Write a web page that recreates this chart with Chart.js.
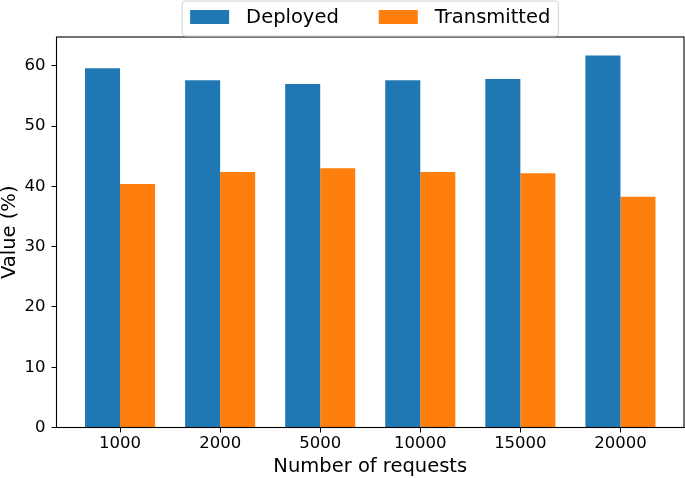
<!DOCTYPE html>
<html>
<head>
<meta charset="utf-8">
<script src="https://cdn.jsdelivr.net/npm/chart.js@4.4.1/dist/chart.umd.min.js"></script>
<style>
  html, body { margin: 0; padding: 0; background: #fff; }
  #wrap { width: 685px; height: 478px; }
</style>
</head>
<body>
<div id="wrap"><canvas id="myChart" width="685" height="478"></canvas></div>
<script>
'use strict'

// data
const requests = ['1000', '2000', '5000', '10000', '15000', '20000']
const deployed = [59.6, 57.6, 57.0, 57.6, 57.8, 61.7]
const transmitted = [40.4, 42.4, 43.0, 42.4, 42.2, 38.3]
const yTicks = [0, 10, 20, 30, 40, 50, 60]

const FONT = 'DejaVu Sans'

// matplotlib style: box round the axes + framed legend above
const framePlugin = {
  id: 'frame',
  afterDraw (chart) {
    const { ctx, chartArea: a } = chart
    ctx.save()
    ctx.strokeStyle = '#000'
    ctx.lineWidth = 1.1
    ctx.strokeRect(a.left, a.top, a.right - a.left, a.bottom - a.top)

    // legend
    ctx.font = '19.5px "' + FONT + '"'
    const sw = 39, sh = 14, gap = 17, spacing = 40, pad = 8
    const items = chart.data.datasets.map(ds => ({
      text: ds.label, color: ds.backgroundColor, w: ctx.measureText(ds.label).width
    }))
    let total = pad * 2 + spacing * (items.length - 1)
    items.forEach(it => { total += sw + gap + it.w })
    const cx = (a.left + a.right) / 2
    let x = cx - total / 2
    const top = 1, h = 35, mid = 17
    ctx.beginPath()
    ctx.roundRect(x, top, total, h, 3)
    ctx.fillStyle = 'rgba(255,255,255,0.8)'
    ctx.fill()
    ctx.strokeStyle = '#d0d0d0'
    ctx.lineWidth = 1
    ctx.stroke()
    x += pad
    ctx.textBaseline = 'middle'
    ctx.textAlign = 'left'
    items.forEach(it => {
      ctx.fillStyle = it.color
      ctx.fillRect(x, mid - sh / 2, sw, sh)
      ctx.fillStyle = '#000'
      ctx.fillText(it.text, x + sw + gap, mid + 1)
      x += sw + gap + it.w + spacing
    })
    ctx.restore()
  }
}

const ctx = document.getElementById('myChart')
new Chart(ctx, {
  type: 'bar',
  data: {
    datasets: [{
      label: 'Deployed',
      data: deployed.map((v, i) => ({ x: i, y: v })),
      backgroundColor: '#1f77b4'
    }, {
      label: 'Transmitted',
      data: transmitted.map((v, i) => ({ x: i, y: v })),
      backgroundColor: '#ff7f0e'
    }]
  },
  options: {
    responsive: false,
    animation: false,
    devicePixelRatio: 1,
    categoryPercentage: 0.7,
    barPercentage: 1.0,
    layout: { padding: { top: 37, right: 1, left: 0, bottom: 0 } },
    plugins: {
      legend: { display: false },
      tooltip: { enabled: false }
    },
    scales: {
      x: {
        type: 'linear',
        offset: false,
        min: -0.635,
        max: requests.length - 1 + 0.635,
        afterBuildTicks: s => { s.ticks = requests.map((r, i) => ({ value: i })) },
        afterFit: s => { s.height = 50.5 },
        grid: { display: true, drawOnChartArea: false, drawTicks: true, tickLength: 5, color: '#000', offset: false },
        border: { display: true, color: '#000' },
        ticks: {
          color: '#000',
          padding: 1.5,
          maxRotation: 0,
          autoSkip: false,
          font: { family: FONT, size: 16.5 },
          callback: v => requests[v]
        },
        title: {
          display: true,
          text: 'Number of requests',
          color: '#000',
          font: { family: FONT, size: 19.5, lineHeight: 1 },
          padding: { top: 0, bottom: 1 }
        }
      },
      y: {
        min: 0,
        max: 61.7 * 1.05,
        afterBuildTicks: s => { s.ticks = yTicks.map(v => ({ value: v })) },
        afterFit: s => { s.width = 56.5 },
        grid: { display: true, drawOnChartArea: false, drawTicks: true, tickLength: 5, color: '#000' },
        border: { display: true, color: '#000' },
        ticks: {
          color: '#000',
          padding: 6,
          font: { family: FONT, size: 16.5 }
        },
        title: {
          display: true,
          text: 'Value (%)',
          color: '#000',
          font: { family: FONT, size: 19.5, lineHeight: 1 },
          padding: { top: 0, bottom: 0 }
        }
      }
    }
  },
  plugins: [framePlugin]
})
</script>
</body>
</html>
